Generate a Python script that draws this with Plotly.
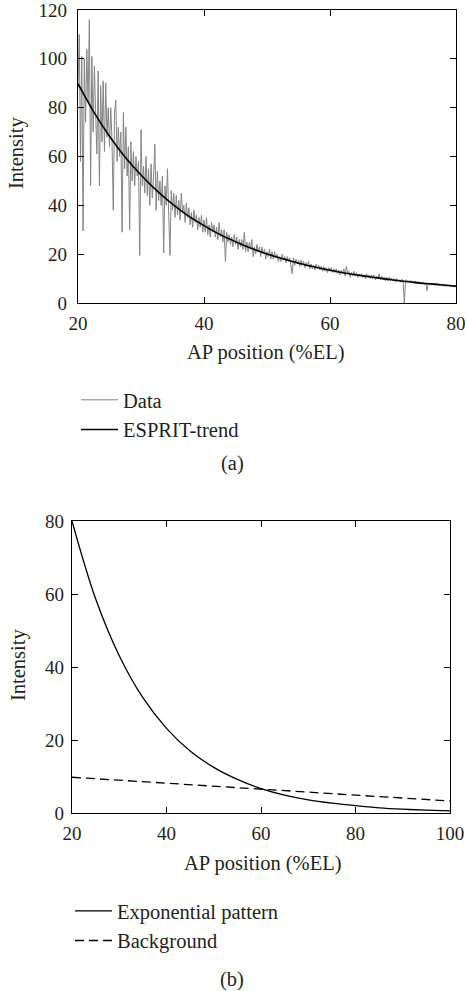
import plotly.graph_objects as go

# ---------------- data ----------------
# panel (a): noisy intensity profile, sampled every 0.2 %EL from 20 to 80
data_x_start = 20.0
data_x_step = 0.2
data_y = [
    88, 110, 58, 101, 29.5,
    100, 74, 104, 82, 116,
    48, 101, 70, 97, 78,
    61, 95, 48, 89, 66,
    91, 62, 90, 68, 80,
    64, 80, 66, 38, 78,
    83, 58, 72, 60, 70,
    29, 78, 55, 72, 52,
    64, 30, 66, 50, 62,
    48, 60, 52, 58, 19.5,
    71, 48, 56, 45, 60,
    44, 55, 40, 57, 43,
    52, 65, 38, 54, 42,
    50, 40, 52, 20.5, 48,
    40, 55, 36, 19.5, 46,
    38, 45, 35, 44, 36,
    42, 34, 45, 37, 40,
    33, 41, 35, 39, 32,
    37, 31, 38, 33, 36,
    30, 35, 31, 36, 29,
    34, 29, 35, 28, 32,
    27, 33, 29, 32, 27,
    31, 26, 33, 27, 30,
    25, 30, 17, 29, 25,
    28, 24, 27, 23, 28,
    24, 27, 22, 26, 23,
    26, 22, 29, 21, 25,
    21, 25, 22, 26, 19,
    23, 20, 24, 21, 23,
    19, 23, 20, 22, 18,
    21, 19, 22, 18, 21,
    18, 21, 18.5, 20, 17,
    19, 17, 20, 17.5, 19,
    16.5, 19, 17, 18.5, 16,
    12, 18.5, 15.5, 18, 16,
    17.5, 15, 17.5, 15.5, 17,
    14.5, 16.5, 15, 17, 14,
    16, 14, 15.5, 13.5, 16,
    14, 15.5, 13.5, 15, 13,
    15, 13, 14.5, 12.5, 14.5,
    13, 14.5, 12.5, 14, 12.5,
    14, 12, 13.5, 11.5, 13.5,
    12, 14, 11, 15, 12,
    13, 10.5, 12.5, 11, 13,
    11, 12.5, 10.5, 12, 11,
    12, 10.5, 11.5, 10, 12,
    10.5, 11.5, 10, 11.5, 10,
    11.5, 9.5, 11, 10, 12,
    9.5, 11, 9.5, 10.5, 9,
    10.5, 9, 10.5, 9.5, 10,
    9, 10, 8.5, 10, 9,
    9.5, 8.5, 9.8, 8.5, 0,
    9.5, 8.5, 9.2, 8.3, 9.3,
    8.2, 9, 8, 9, 8.1,
    8.8, 7.8, 8.6, 7.7, 8.5,
    7.6, 8.4, 5, 8.2, 7.5,
    8.1, 7.3, 8.2, 7.2, 8,
    7.1, 7.9, 7, 7.8, 6.9,
    7.7, 6.8, 7.6, 6.7, 7.4,
    6.6, 7.4, 6.6, 7.2, 6.5,
    7.0,
]
data_x = [round(data_x_start + data_x_step * i, 2) for i in range(len(data_y))]

# panel (a): ESPRIT trend
trend_x = [20, 22.5, 25, 27.5, 30, 32.5, 35, 37.5, 40, 42.5, 45, 47.5, 50,
           52.5, 55, 57.5, 60, 62.5, 65, 67.5, 70, 72.5, 75, 77.5, 80]
trend_y = [89.8, 78.3, 68.3, 59.7, 52.4, 46.0, 40.5, 35.7, 31.7, 28.1, 25.1,
           22.4, 20.1, 18.1, 16.3, 14.8, 13.4, 12.2, 11.2, 10.3, 9.4, 8.7,
           8.0, 7.5, 6.9]

# panel (b): exponential pattern and background
exp_x = [20, 25, 30, 35, 40, 45, 50, 55, 60, 65, 70, 75, 80, 85, 90, 95, 100]
exp_y = [80, 58.7, 43.1, 31.6, 23.2, 17.0, 12.5, 9.2, 6.7, 4.9, 3.6, 2.7,
         2.0, 1.43, 1.05, 0.77, 0.57]
bg_x = [20, 40, 60, 80, 100]
bg_y = [9.8, 8.1, 6.5, 4.9, 3.3]

xticks_a = [20, 40, 60, 80]
yticks_a = [0, 20, 40, 60, 80, 100, 120]
xticks_b = [20, 40, 60, 80, 100]
yticks_b = [0, 20, 40, 60, 80]

# ---------------- figure ----------------
W, H = 466, 991
FONT = "Liberation Serif, Times New Roman, DejaVu Serif, serif"
TXT = "#231f20"

fig = go.Figure()
fig.add_trace(go.Scatter(x=data_x, y=data_y, mode="lines", name="Data",
                         line=dict(color="#858585", width=1),
                         xaxis="x", yaxis="y", legend="legend",
                         legendgroup="a1"))
fig.add_trace(go.Scatter(x=trend_x, y=trend_y, mode="lines", name="ESPRIT-trend",
                         line=dict(color="black", width=1.6, shape="spline"),
                         xaxis="x", yaxis="y", legend="legend",
                         legendgroup="a2"))
fig.add_trace(go.Scatter(x=exp_x, y=exp_y, mode="lines", name="Exponential pattern",
                         line=dict(color="black", width=1.3, shape="spline"),
                         xaxis="x2", yaxis="y2", legend="legend2",
                         legendgroup="b1"))
fig.add_trace(go.Scatter(x=bg_x, y=bg_y, mode="lines", name="Background",
                         line=dict(color="black", width=1.3, dash="9px,5px"),
                         xaxis="x2", yaxis="y2", legend="legend2",
                         legendgroup="b2"))


def px_x(p):
    return p / W


def px_y(p):
    return 1 - p / H


axis_common = dict(showline=True, linecolor="black", linewidth=1.2,
                   mirror="ticks", ticks="inside", ticklen=6, tickwidth=1,
                   tickcolor="black", showgrid=False, zeroline=False,
                   automargin=False, ticklabeloverflow="allow",
                   tickfont=dict(family=FONT, size=19, color=TXT))

fig.update_layout(
    width=W, height=H,
    margin=dict(l=0, r=0, t=0, b=0, pad=0, autoexpand=False),
    paper_bgcolor="white", plot_bgcolor="white",
    showlegend=True,
    xaxis=dict(domain=[px_x(78), px_x(456)], range=[20, 80],
               tickvals=xticks_a, anchor="y", ticklabelstandoff=3,
               **axis_common),
    yaxis=dict(domain=[px_y(303), px_y(10)], range=[0, 120],
               tickvals=yticks_a, anchor="x", ticklabelstandoff=6,
               **axis_common),
    xaxis2=dict(domain=[px_x(72), px_x(450)], range=[20, 100],
                tickvals=xticks_b, anchor="y2", ticklabelstandoff=3,
                **axis_common),
    yaxis2=dict(domain=[px_y(813), px_y(521)], range=[0, 80],
                tickvals=yticks_b, anchor="x2", ticklabelstandoff=3,
                **axis_common),
    legend=dict(x=px_x(76), y=px_y(380), xanchor="left", yanchor="top",
                font=dict(family=FONT, size=20.5, color=TXT),
                bgcolor="rgba(0,0,0,0)", traceorder="grouped",
                tracegroupgap=0, itemwidth=37),
    legend2=dict(x=px_x(70), y=px_y(891), xanchor="left", yanchor="top",
                 font=dict(family=FONT, size=20.5, color=TXT),
                 bgcolor="rgba(0,0,0,0)", traceorder="grouped",
                 tracegroupgap=0, itemwidth=37),
)

ann_font = dict(family=FONT, size=20.5, color=TXT)
annotations = [
    dict(text="AP position (%EL)", x=px_x(266), y=px_y(353)),
    dict(text="Intensity", x=px_x(16), y=px_y(153), textangle=-90),
    dict(text="(a)", x=px_x(232), y=px_y(463)),
    dict(text="AP position (%EL)", x=px_x(263), y=px_y(863)),
    dict(text="Intensity", x=px_x(18), y=px_y(665), textangle=-90),
    dict(text="(b)", x=px_x(232), y=px_y(979)),
]
for a in annotations:
    fig.add_annotation(xref="paper", yref="paper", showarrow=False,
                       xanchor="center", yanchor="middle", font=ann_font, **a)

fig.write_html("out.html",
               config={"displayModeBar": False},
               post_script="document.body.style.margin='0';"
                           "document.body.style.overflow='hidden';")
